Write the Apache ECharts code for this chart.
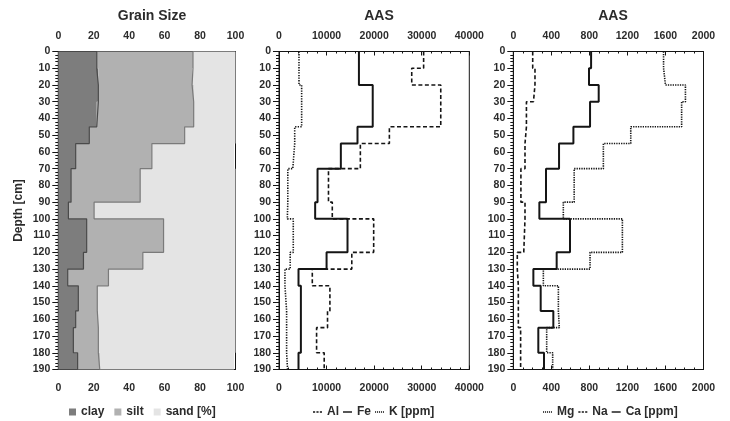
<!DOCTYPE html>
<html>
<head>
<meta charset="utf-8">
<script src="https://cdn.jsdelivr.net/npm/echarts@6/dist/echarts.min.js"></script>
<style>
  html, body { margin: 0; padding: 0; background: #fff; }
  #chart { width: 730px; height: 421px; }
</style>
</head>
<body>
<div id="chart"></div>
<script>
// layer boundaries (cm), one value per layer below
const depths = [0, 10, 20, 30, 45, 55, 70, 90, 100, 120, 130, 140, 155, 165, 180, 190]

// grain size, cumulative %
const clay = [21.7, 22.6, 22.6, 21.7, 17.5, 9.8, 7.2, 5.7, 16, 14.2, 5.3, 11.3, 9.8, 8.5, 10.9]
const claySilt = [76, 75.5, 76.4, 76.4, 71.3, 52.8, 46.2, 20.2, 59.4, 47.7, 28.3, 22, 22.6, 22.6, 23.4]
const sandTop = [100, 100, 100, 100, 100, 99.2, 100, 100, 100, 100, 100, 100, 100, 100, 99.2]

// AAS [ppm]
const al = [4200, 4200, 4760, 4760, 3300, 2900, 1850, 1750, 3000, 2350, 1250, 1600, 1600, 1600, 1800]
const fe = [16800, 16800, 19700, 19700, 16500, 13000, 8100, 7600, 14400, 10000, 4100, 4600, 4600, 4600, 4100]
const k = [30400, 27900, 34000, 34000, 23200, 17100, 10400, 11200, 19900, 15300, 7000, 10700, 10200, 7900, 9500]
const mg = [1580, 1600, 1810, 1770, 1235, 947, 640, 526, 1147, 807, 316, 474, 484, 351, 414]
const na = [204, 228, 212, 138, 123, 123, 80, 123, 110, 42, 53, 53, 53, 77, 77]
const ca = [818, 796, 898, 807, 632, 481, 344, 274, 596, 456, 211, 288, 421, 263, 323]

const FONT = 'Liberation Sans, Arial, sans-serif'
const TXT = '#2b2b2b'
const INK = '#151515'

// legend glyphs
const ICON_SOLID = 'path://M0,0H10V1.6H0Z'
const ICON_DASH = 'path://M0,0H2.4V1.6H0Z M3.8,0H6.2V1.6H3.8Z M7.6,0H10V1.6H7.6Z'
const ICON_DOT = 'path://M0,0H1.2V1.6H0Z M2.2,0H3.4V1.6H2.2Z M4.4,0H5.6V1.6H4.4Z M6.6,0H7.8V1.6H6.6Z M8.8,0H10V1.6H8.8Z'

// value per layer -> [x, depth] points of a step profile
function steps(vals) {
  const pts = []
  vals.forEach((v, i) => {
    pts.push([v, depths[i]])
    pts.push([v, depths[i + 1]])
  })
  return pts
}

const zeros = clay.map(() => 0)

function band(name, lo, hi, color) {
  return {
    type: 'custom',
    name: name,
    xAxisIndex: 0,
    yAxisIndex: 0,
    z: 1,
    itemStyle: { color: color },
    data: [[0, 0]],
    renderItem(params, api) {
      const pts = []
      steps(hi).forEach(p => pts.push(api.coord(p)))
      steps(lo).reverse().forEach(p => pts.push(api.coord(p)))
      return { type: 'polygon', shape: { points: pts }, style: { fill: color } }
    }
  }
}

function profile(name, g, vals, lineType, width, color) {
  return {
    type: 'line',
    name: name,
    xAxisIndex: g * 2,
    yAxisIndex: g,
    data: steps(vals),
    symbol: 'none',
    z: 3,
    lineStyle: { color: color || INK, width: width, type: lineType },
    itemStyle: { color: color || INK }
  }
}

const grids = [
  { left: 58.3, right: 730 - 235.5, top: 51.5, bottom: 421 - 369.5 },
  { left: 279, right: 730 - 469.3, top: 51.5, bottom: 421 - 369.5 },
  { left: 513.3, right: 730 - 703.5, top: 51.5, bottom: 421 - 369.5 }
]

const xScale = [
  { max: 100, interval: 10, every: 20, minor: 5 },
  { max: 40000, interval: 10000, every: 10000, minor: 5 },
  { max: 2000, interval: 400, every: 400, minor: 4 }
]

const xAxes = []
xScale.forEach((s, g) => {
  ['top', 'bottom'].forEach(pos => {
    xAxes.push({
      type: 'value', gridIndex: g, position: pos,
      min: 0, max: s.max, interval: s.interval,
      axisLine: { show: true, onZero: false, lineStyle: { color: INK, width: 1 } },
      axisTick: { show: true, inside: true, length: 4, lineStyle: { color: INK } },
      minorTick: { show: true, splitNumber: s.minor, length: 2, lineStyle: { color: INK } },
      splitLine: { show: false },
      axisLabel: {
        formatter: v => (v % s.every === 0 ? String(v) : ''),
        fontFamily: FONT, fontWeight: 'bold', fontSize: 10.5, color: TXT,
        margin: pos === 'top' ? 10 : 13
      }
    })
  })
})

const yAxes = grids.map((gr, g) => ({
  type: 'value', gridIndex: g, inverse: true,
  min: 0, max: 190, interval: 10,
  name: g === 0 ? 'Depth [cm]' : '',
  nameLocation: 'middle', nameGap: 34, nameRotate: 90,
  nameTextStyle: { fontFamily: FONT, fontWeight: 'bold', fontSize: 12, color: TXT },
  axisLine: { show: true, onZero: false, lineStyle: { color: INK, width: 1 } },
  axisTick: { show: true, length: 6, lineStyle: { color: INK } },
  minorTick: { show: true, splitNumber: 5, length: 3, lineStyle: { color: INK } },
  splitLine: { show: false },
  axisLabel: { fontFamily: FONT, fontWeight: 'bold', fontSize: 10.5, color: TXT, margin: 8 }
}))

const legendText = { fontFamily: FONT, fontWeight: 'bold', fontSize: 12, color: TXT }
const lineLegend = { itemWidth: 9, itemHeight: 2, itemGap: 4, textStyle: legendText,
  itemStyle: { borderWidth: 0 } }

const option = {
  animation: false,
  backgroundColor: '#fff',
  title: [
    { text: 'Grain Size', left: 147, top: 4, textAlign: 'center',
      textStyle: { fontFamily: FONT, fontWeight: 'bold', fontSize: 14, color: TXT } },
    { text: 'AAS', left: 374, top: 4, textAlign: 'center',
      textStyle: { fontFamily: FONT, fontWeight: 'bold', fontSize: 14, color: TXT } },
    { text: 'AAS', left: 608, top: 4, textAlign: 'center',
      textStyle: { fontFamily: FONT, fontWeight: 'bold', fontSize: 14, color: TXT } }
  ],
  grid: grids.map(g => Object.assign({ show: true, borderColor: INK, borderWidth: 1, backgroundColor: 'transparent' }, g)),
  xAxis: xAxes,
  yAxis: yAxes,
  legend: [
    { data: ['clay', 'silt', 'sand [%]'], left: 64, top: 401, icon: 'rect',
      itemWidth: 7, itemHeight: 7, itemGap: 10, textStyle: legendText },
    Object.assign({ left: 308, top: 401, data: [
      { name: 'Al', icon: ICON_DASH }, { name: 'Fe', icon: ICON_SOLID }, { name: 'K [ppm]', icon: ICON_DOT }
    ] }, lineLegend),
    Object.assign({ left: 538, top: 401, data: [
      { name: 'Mg', icon: ICON_DOT }, { name: 'Na', icon: ICON_DASH }, { name: 'Ca [ppm]', icon: ICON_SOLID }
    ] }, lineLegend)
  ],
  series: [
    band('clay', zeros, clay, '#7d7d7d'),
    band('silt', clay, claySilt, '#b1b1b1'),
    band('sand [%]', claySilt, sandTop, '#e4e4e4'),
    profile('clay line', 0, clay, 'solid', 1.2, '#4a4a4a'),
    profile('silt line', 0, claySilt, 'solid', 1.2, '#7a7a7a'),
    profile('Al', 1, al, [1.3, 1.3], 1.6),
    profile('Fe', 1, fe, 'solid', 2),
    profile('K [ppm]', 1, k, [4, 2.5], 1.6),
    profile('Mg', 2, mg, [1.3, 1.1], 1.6),
    profile('Na', 2, na, [4, 2.5], 1.6),
    profile('Ca [ppm]', 2, ca, 'solid', 2)
  ]
}

const chart = echarts.init(document.getElementById('chart'))
chart.setOption(option)
</script>
</body>
</html>
